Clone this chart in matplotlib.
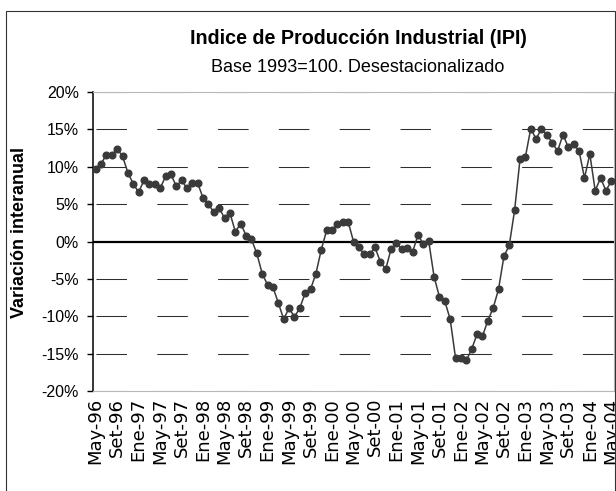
import matplotlib
matplotlib.use('Agg')
import matplotlib.pyplot as plt
from matplotlib.patches import Rectangle

plt.rcParams['font.family'] = ['Liberation Sans', 'DejaVu Sans']
plt.rcParams['lines.scale_dashes'] = False

title = 'Indice de Producción Industrial (IPI)'
subtitle = 'Base 1993=100. Desestacionalizado'
ylabel = 'Variación interanual'

tick_labels = ['May-96', 'Set-96', 'Ene-97', 'May-97', 'Set-97', 'Ene-98', 'May-98',
               'Set-98', 'Ene-99', 'May-99', 'Set-99', 'Ene-00', 'May-00', 'Set-00',
               'Ene-01', 'May-01', 'Set-01', 'Ene-02', 'May-02', 'Set-02', 'Ene-03',
               'May-03', 'Set-03', 'Ene-04', 'May-04']

# monthly year-on-year variation (%), May-96 .. May-04
values = [9.7, 10.4, 11.6, 11.6, 12.4, 11.4, 9.2, 7.7, 6.6, 8.2,
          7.7, 7.7, 7.1, 8.7, 9.0, 7.4, 8.2, 7.1, 7.8, 7.8,
          5.8, 5.0, 3.9, 4.5, 3.1, 3.8, 1.3, 2.4, 0.8, 0.3,
          -1.6, -4.3, -5.8, -6.1, -8.2, -10.4, -8.9, -10.1, -8.9, -6.9,
          -6.4, -4.3, -1.1, 1.5, 1.5, 2.4, 2.6, 2.65, 0.0, -0.8,
          -1.7, -1.7, -0.8, -2.7, -3.7, -1.0, -0.25, -1.0, -0.9, -1.4,
          0.85, -0.3, 0.05, -4.7, -7.4, -8.0, -10.4, -15.6, -15.6, -15.9,
          -14.4, -12.4, -12.7, -10.6, -8.9, -6.4, -2.0, -0.5, 4.2, 11.0,
          11.3, 15.1, 13.7, 15.1, 14.3, 13.2, 12.1, 14.3, 12.6, 13.0,
          12.1, 8.5, 11.7, 6.8, 8.5, 6.8, 8.1]

yticks = [-20, -15, -10, -5, 0, 5, 10, 15, 20]

W, H = 616, 491
fig = plt.figure(figsize=(W / 100, H / 100), dpi=100)
fig.patch.set_facecolor('white')

ax = fig.add_axes([93 / W, 1 - 391 / H, (614 - 93) / W, (391 - 92) / H])

px = 1 / 1.3889
for v in yticks:
    if v != 0:
        ax.axhline(v, color='#2e2e2e', lw=0.75,
                   linestyle=(57.8 * px, (30.5 * px, 30.3 * px)), zorder=1)
ax.axhline(0, color='black', lw=1.6, zorder=2)

x = list(range(len(values)))
ax.plot(x, values, color='#3a3a3a', lw=1.1, marker='o', ms=4.8,
        mfc='#3a3a3a', mec='#3a3a3a', zorder=5, clip_on=False)

ax.set_xlim(-0.5, len(values) - 0.5)
ax.set_ylim(-20, 20)
ax.set_yticks(yticks)
ax.set_yticklabels([f'{v}%' for v in yticks], fontsize=11.5)
ax.set_xticks(list(range(0, len(values), 4)))
ax.set_xticklabels(tick_labels, rotation=90, family=['DejaVu Sans'],
                   fontsize=13)

ax.tick_params(axis='y', direction='out', length=4, width=1, pad=6,
               colors='black')
ax.tick_params(axis='x', length=0, pad=5)

for s in ['top', 'right', 'bottom']:
    ax.spines[s].set_color('#b8b8b8')
    ax.spines[s].set_linewidth(0.8)
ax.spines['left'].set_color('black')
ax.spines['left'].set_linewidth(1.1)

top = 1 - 10.5 / H
fig.patches.append(Rectangle((5.5 / W, -0.1), (614.5 - 5.5) / W, top + 0.1,
                             transform=fig.transFigure, fill=False,
                             edgecolor='#333333', lw=0.8))

fig.text(358 / W, 1 - 38 / H, title, ha='center', va='center',
         fontsize=14.2, fontweight='bold')
fig.text(358 / W, 1 - 68 / H, subtitle, ha='center', va='center', fontsize=13)
fig.text(20 / W, 1 - 233 / H, ylabel, rotation=90, ha='center', va='center',
         fontsize=13, fontweight='bold')

fig.savefig('out.png', dpi=100)
